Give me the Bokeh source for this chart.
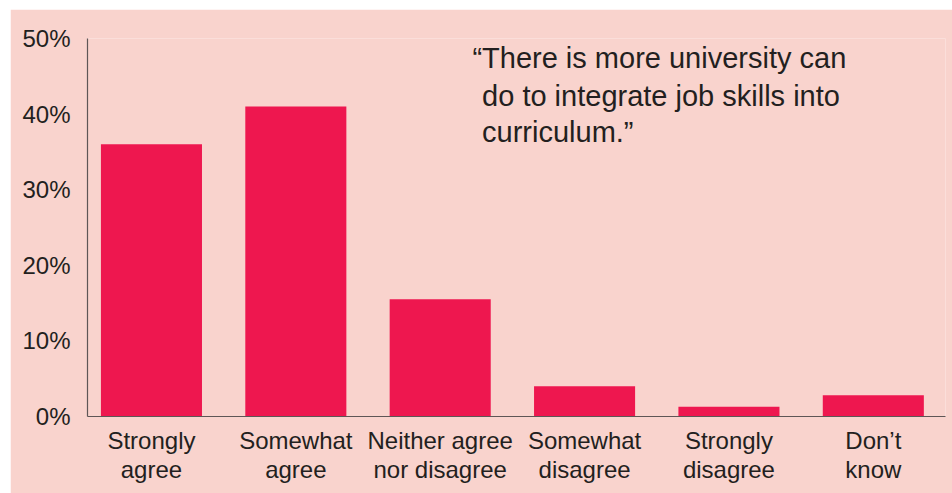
from bokeh.plotting import figure
from bokeh.models import ColumnDataSource, FixedTicker, Label, Range1d, Spacer
from bokeh.layouts import column, row
from bokeh.embed import file_html
from bokeh.resources import INLINE

categories = ["Strongly\nagree", "Somewhat\nagree", "Neither agree\nnor disagree",
              "Somewhat\ndisagree", "Strongly\ndisagree", "Don\u2019t\nknow"]
values = [36, 41, 15.5, 4, 1.3, 2.8]
y_ticks = [0, 10, 20, 30, 40, 50]
y_tick_labels = ["0%", "10%", "20%", "30%", "40%", "50%"]
quote_lines = ["\u201cThere is more university can",
               "do to integrate job skills into",
               "curriculum.\u201d"]

BG = "#F9D3CD"
BAR = "#EE174F"
TXT = "#231F20"
FONT = "Liberation Sans"

xs = list(range(len(categories)))
src = ColumnDataSource(dict(x=xs, top=values))

p = figure(width=942, height=484, output_backend="svg", toolbar_location=None,
           x_range=Range1d(-0.443, 5.5), y_range=Range1d(0, 50),
           min_border_left=77, min_border_right=7, min_border_top=29, min_border_bottom=77)
p.background_fill_color = BG
p.border_fill_color = BG
p.outline_line_color = None
p.xgrid.visible = False
p.ygrid.visible = False

p.vbar(x="x", top="top", bottom=0, width=0.70, source=src, color=BAR, line_color=None)

p.xaxis.ticker = FixedTicker(ticks=xs)
p.xaxis.major_label_overrides = {i: c for i, c in enumerate(categories)}
p.yaxis.ticker = FixedTicker(ticks=y_ticks)
p.yaxis.major_label_overrides = {t: l for t, l in zip(y_ticks, y_tick_labels)}

for ax in (p.xaxis[0], p.yaxis[0]):
    ax.major_tick_line_color = None
    ax.minor_tick_line_color = None
    ax.axis_line_color = "#5E5656"
    ax.axis_line_width = 1.2
    ax.major_label_text_font = FONT
    ax.major_label_text_font_size = "24px"
    ax.major_label_text_color = TXT
p.yaxis.major_label_standoff = 11
p.xaxis.major_label_standoff = 4
p.xaxis.major_label_text_line_height = 1.1

qx = [2.223, 2.29, 2.29]
qy = [47.4, 42.4, 37.6]
for t, x, y in zip(quote_lines, qx, qy):
    p.add_layout(Label(x=x, y=y, text=t, text_font=FONT, text_font_size="29px",
                       text_color=TXT, text_baseline="alphabetic"))

layout = column(Spacer(height=9), row(Spacer(width=10), p))
open("out.html", "w").write(file_html(layout, INLINE))
